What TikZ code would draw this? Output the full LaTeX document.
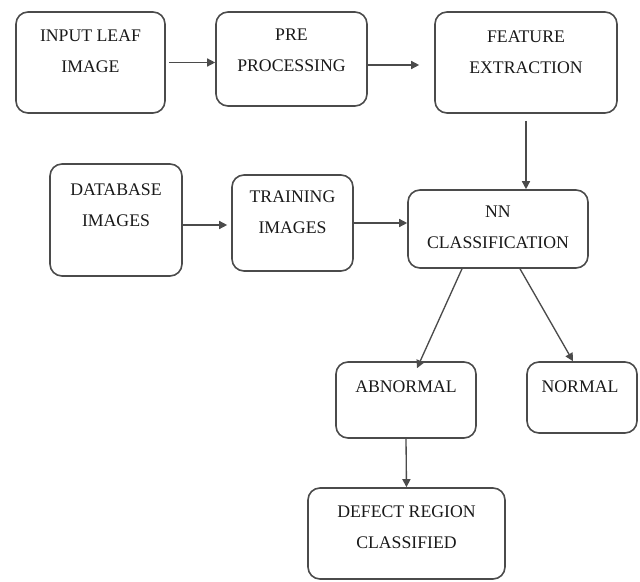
\documentclass[tikz,border=0pt]{standalone}
\usepackage{fontspec}
\setmainfont{Liberation Serif}
\usetikzlibrary{arrows.meta}

\definecolor{edgegrey}{RGB}{75,75,75}
\definecolor{inkgrey}{RGB}{25,25,25}

\tikzset{
  blk/.style={rectangle, draw=edgegrey, line width=1.2pt, rounded corners=9pt, inner sep=0pt},
  lbl/.style={align=center, inner sep=0.75pt, text=inkgrey, font=\fontsize{13.3}{23}\selectfont},
  flow/.style={draw=edgegrey, line width=1pt, -{Triangle[length=6pt,width=6pt]}}
}

\begin{document}
\begin{tikzpicture}[x=0.75pt,y=0.75pt,yscale=-1,xscale=1]
\useasboundingbox (0,0) rectangle (640,582);

%Shape: Rounded Rect [id:inleaf]
\node [blk, minimum width=111.75pt, minimum height=75.75pt] (inleaf) at (90.5,62.5) {};
%Shape: Rounded Rect [id:pre]
\node [blk, minimum width=113.25pt, minimum height=70.5pt] (pre) at (291.5,59) {};
%Shape: Rounded Rect [id:feat]
\node [blk, minimum width=136.5pt, minimum height=75.75pt] (feat) at (526,62.5) {};
%Shape: Rounded Rect [id:dbase]
\node [blk, minimum width=99pt, minimum height=84pt] (dbase) at (116,220) {};
%Shape: Rounded Rect [id:train]
\node [blk, minimum width=90.75pt, minimum height=72pt] (train) at (292.5,223) {};
%Shape: Rounded Rect [id:nncls]
\node [blk, minimum width=135pt, minimum height=58.5pt] (nncls) at (498,229) {};
%Shape: Rounded Rect [id:abnorm]
\node [blk, minimum width=105pt, minimum height=57pt] (abnorm) at (406,400) {};
%Shape: Rounded Rect [id:norm]
\node [blk, minimum width=82.5pt, minimum height=53.25pt] (norm) at (582,397.5) {};
%Shape: Rounded Rect [id:defect]
\node [blk, minimum width=147.75pt, minimum height=68.25pt] (defect) at (406.5,533.5) {};

% Text Node
\node [lbl] (t1) at (90.5,51) {INPUT LEAF\\IMAGE};
% Text Node
\node [lbl] (t2) at (291.5,50) {PRE\\PROCESSING};
% Text Node
\node [lbl] (t3) at (526,52.5) {FEATURE\\EXTRACTION};
% Text Node
\node [lbl] (t4) at (116,205) {DATABASE\\IMAGES};
% Text Node
\node [lbl] (t5) at (292.5,212.5) {TRAINING\\IMAGES};
% Text Node
\node [lbl] (t6) at (498,227.5) {NN\\CLASSIFICATION};
% Text Node
\node [lbl] (t7) at (406,387) {ABNORMAL};
% Text Node
\node [lbl] (t8) at (580,387) {NORMAL};
% Text Node
\node [lbl] (t9) at (406.5,527) {DEFECT REGION\\CLASSIFIED};

%Straight Lines
\draw [flow, shorten <=2.25pt] (inleaf.east) -- (inleaf.east -| pre.west);
\draw [flow, shorten >=11.25pt] ([yshift=4.5pt]pre.east) -- ([yshift=4.5pt]pre.east -| feat.west);
\draw [flow, shorten <=5.25pt] (feat.south) -- (feat.south |- nncls.north);
\draw [flow, shorten >=3pt] ([yshift=3.75pt]dbase.east) -- ([yshift=3.75pt]dbase.east -| train.west);
\draw [flow] (train.east) -- (train.east -| nncls.west);
\draw [flow] ([xshift=-27pt]nncls.south) -- ([xshift=8.25pt,yshift=5.25pt]abnorm.north);
\draw [flow] ([xshift=16.5pt]nncls.south) -- ([xshift=-6.75pt]norm.north);
\draw [flow] (abnorm.south) -- (defect.north);

\end{tikzpicture}
\end{document}
